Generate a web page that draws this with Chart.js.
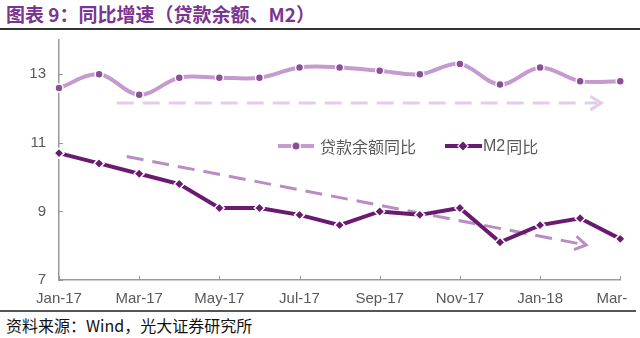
<!DOCTYPE html>
<html>
<head>
<meta charset="utf-8">
<script src="https://cdn.jsdelivr.net/npm/chart.js@4"></script>
<style>
  html, body { margin: 0; padding: 0; background: #fff; }
  body { width: 640px; height: 338px; position: relative; overflow: hidden; }
  #title {
    position: absolute; left: 6px; top: 0px;
    font: bold 19px "Noto Sans CJK SC", sans-serif; color: #7b3590;
    white-space: nowrap;
  }
  #topRule { position: absolute; left: 0; top: 28px; width: 640px; height: 2px; background: #333; }
  #chartBox { position: absolute; left: 0; top: 34px; width: 627px; height: 276px; overflow: hidden; }
  #chartInner { position: absolute; left: 0; top: -16px; width: 654px; height: 292px; }
  #bottomRule { position: absolute; left: 0; top: 310px; width: 636px; height: 2px; background: #555; }
  #source {
    position: absolute; left: 6px; top: 313px;
    font: 16px "Noto Sans CJK SC", sans-serif; color: #111; white-space: nowrap;
  }
</style>
</head>
<body>
<div id="title">图表 9：同比增速（贷款余额、M2）</div>
<div id="topRule"></div>
<div id="chartBox"><div id="chartInner"><canvas id="growthChart"></canvas></div></div>
<div id="bottomRule"></div>
<div id="source">资料来源：Wind，光大证券研究所</div>
<script>
const months = ['Jan-17', 'Feb-17', 'Mar-17', 'Apr-17', 'May-17', 'Jun-17', 'Jul-17', 'Aug-17',
                'Sep-17', 'Oct-17', 'Nov-17', 'Dec-17', 'Jan-18', 'Feb-18', 'Mar-18'];
const loanYoY = [12.6, 13.0, 12.4, 12.9, 12.9, 12.9, 13.2, 13.2, 13.1, 13.0, 13.3, 12.7, 13.2, 12.8, 12.8];
const m2YoY = [10.7, 10.4, 10.1, 9.8, 9.1, 9.1, 8.9, 8.6, 9.0, 8.9, 9.1, 8.1, 8.6, 8.8, 8.2];
const yTicks = [7, 9, 11, 13];
const seriesNames = ['贷款余额同比', 'M2同比'];
// trend arrows, [x index, value] start -> end
const loanTrend = [[1.44, 12.16], [13.53, 12.16]];
const m2Trend = [[1.69, 10.6], [13.15, 8.02]];

const loanLine = '#c59acf';
const loanDot = '#8a4f96';
const m2Line = '#6a1b70';

function dashedArrow(ctx, x1, y1, x2, y2, color) {
    ctx.save();
    ctx.strokeStyle = color;
    ctx.lineWidth = 3;
    ctx.setLineDash([17, 9]);
    ctx.beginPath();
    ctx.moveTo(x1, y1);
    ctx.lineTo(x2 - 4, y2 - 4 * (y2 - y1) / (x2 - x1));
    ctx.stroke();
    ctx.setLineDash([]);
    const ang = Math.atan2(y2 - y1, x2 - x1);
    const len = 13;
    ctx.beginPath();
    ctx.moveTo(x2 - len * Math.cos(ang - 0.55), y2 - len * Math.sin(ang - 0.55));
    ctx.lineTo(x2, y2);
    ctx.lineTo(x2 - len * Math.cos(ang + 0.55), y2 - len * Math.sin(ang + 0.55));
    ctx.stroke();
    ctx.restore();
}

const trendPlugin = {
    id: 'trendArrows',
    beforeDatasetsDraw(chart) {
        const { ctx, scales: { x, y } } = chart;
        const px = p => [x.getPixelForValue(p[0]), y.getPixelForValue(p[1])];
        const a = px(loanTrend[0]), b = px(loanTrend[1]);
        dashedArrow(ctx, a[0], a[1], b[0], b[1], '#e3cde8');
        const c = px(m2Trend[0]), d = px(m2Trend[1]);
        dashedArrow(ctx, c[0], c[1], d[0], d[1], '#b98dc3');
    }
};

// short inward tick marks on both axes
const tickPlugin = {
    id: 'innerTicks',
    afterDraw(chart) {
        const { ctx, chartArea, scales: { x, y } } = chart;
        ctx.save();
        ctx.strokeStyle = '#999';
        ctx.lineWidth = 1;
        ctx.beginPath();
        yTicks.forEach(v => {
            const py = Math.round(y.getPixelForValue(v)) + 0.5;
            ctx.moveTo(chartArea.left, py);
            ctx.lineTo(chartArea.left + 4, py);
        });
        months.forEach((m, i) => {
            if (i % 2 !== 0) return;
            const pxv = Math.round(x.getPixelForValue(i)) + 0.5;
            ctx.moveTo(pxv, chartArea.bottom);
            ctx.lineTo(pxv, chartArea.bottom - 4);
        });
        ctx.stroke();
        ctx.restore();
    }
};

// legend placed inside the plot
const legendPlugin = {
    id: 'innerLegend',
    afterDraw(chart) {
        const ctx = chart.ctx;
        const ly = 128;
        ctx.save();
        ctx.lineWidth = 4;
        ctx.strokeStyle = loanLine;
        ctx.beginPath(); ctx.moveTo(278, ly); ctx.lineTo(314, ly); ctx.stroke();
        ctx.fillStyle = '#fff';
        ctx.beginPath(); ctx.arc(296, ly, 5, 0, Math.PI * 2); ctx.fill();
        ctx.fillStyle = loanDot;
        ctx.beginPath(); ctx.arc(296, ly, 3.5, 0, Math.PI * 2); ctx.fill();

        ctx.strokeStyle = m2Line;
        ctx.beginPath(); ctx.moveTo(445, ly); ctx.lineTo(482, ly); ctx.stroke();
        ctx.fillStyle = '#fff';
        ctx.beginPath();
        ctx.moveTo(463, ly - 6); ctx.lineTo(469, ly); ctx.lineTo(463, ly + 6); ctx.lineTo(457, ly);
        ctx.closePath(); ctx.fill();
        ctx.fillStyle = m2Line;
        ctx.beginPath();
        ctx.moveTo(463, ly - 4.5); ctx.lineTo(467.5, ly); ctx.lineTo(463, ly + 4.5); ctx.lineTo(458.5, ly);
        ctx.closePath(); ctx.fill();

        ctx.fillStyle = '#595959';
        ctx.font = '16px "Noto Sans CJK SC", sans-serif';
        ctx.textBaseline = 'middle';
        ctx.fillText(seriesNames[0], 320, ly + 1);
        ctx.font = '16px "Liberation Sans", Arial, sans-serif';
        const mw = ctx.measureText('M2').width;
        ctx.fillText('M2', 483, ly + 1);
        ctx.font = '16px "Noto Sans CJK SC", sans-serif';
        ctx.fillText(seriesNames[1].slice(2), 484 + mw, ly + 1);
        ctx.restore();
    }
};

const ctx = document.getElementById('growthChart').getContext('2d');
new Chart(ctx, {
    type: 'line',
    data: {
        labels: months,
        datasets: [{
            label: seriesNames[0],
            data: loanYoY,
            borderColor: loanLine,
            borderWidth: 4,
            tension: 0.35,
            pointStyle: 'circle',
            pointRadius: 4,
            pointBackgroundColor: loanDot,
            pointBorderColor: '#fff',
            pointBorderWidth: 1.5
        }, {
            label: seriesNames[1],
            data: m2YoY,
            borderColor: m2Line,
            borderWidth: 4,
            tension: 0,
            pointStyle: 'rectRot',
            pointRadius: 5,
            pointBackgroundColor: m2Line,
            pointBorderColor: '#fff',
            pointBorderWidth: 1.5
        }]
    },
    options: {
        responsive: true,
        maintainAspectRatio: false,
        animation: false,
        layout: { padding: { top: 6, left: 0, right: 0, bottom: 0 } },
        plugins: {
            legend: { display: false },
            tooltip: { enabled: false }
        },
        scales: {
            x: {
                offset: false,
                grid: { drawOnChartArea: false, drawTicks: false },
                border: { color: '#999', width: 1.5 },
                ticks: {
                    autoSkip: false,
                    maxRotation: 0,
                    padding: 10,
                    color: '#595959',
                    font: { family: '"Liberation Sans", Arial, sans-serif', size: 15 },
                    callback: (v, i) => (i % 2 === 0 ? months[i] : '')
                },
                afterFit: scale => { scale.height = 30; }
            },
            y: {
                min: 7,
                max: 14,
                grid: { drawOnChartArea: false, drawTicks: false },
                border: { color: '#999', width: 1.5 },
                afterBuildTicks: scale => { scale.ticks = yTicks.map(v => ({ value: v })); },
                ticks: {
                    padding: 13,
                    color: '#595959',
                    font: { family: '"Liberation Sans", Arial, sans-serif', size: 15 }
                },
                afterFit: scale => { scale.width = 59; }
            }
        }
    },
    plugins: [trendPlugin, tickPlugin, legendPlugin]
});
</script>
</body>
</html>
